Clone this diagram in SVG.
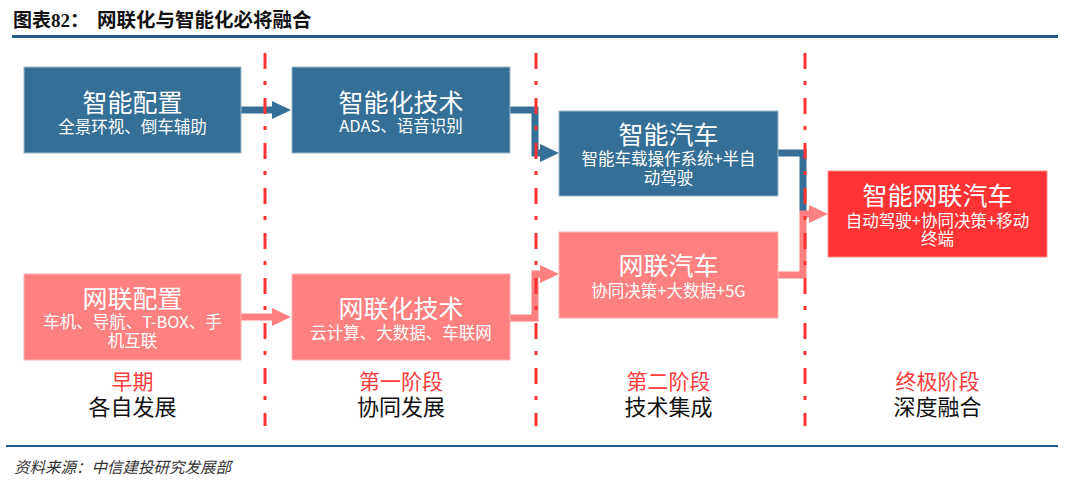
<svg xmlns="http://www.w3.org/2000/svg" width="1080" height="482" viewBox="0 0 1080 482">
  <defs>
    <style>
      .cjk { font-family: "Noto Sans CJK SC", "Noto Sans", sans-serif; }
      .blue { fill: #356F95; stroke: #9DB9CC; stroke-width: 1; }
      .pink { fill: #FF8080; stroke: #FFB3B3; stroke-width: 1; }
      .red { fill: #FF3333; stroke: #FF8C8C; stroke-width: 1; }
      .lbl { fill: #FFFFFF; text-anchor: middle; }
      .t1 { font-size: 25px; }
      .t2 { font-size: 16.5px; }
      .stagelbl { text-anchor: middle; }
      .stage { font-size: 21px; fill: #FF3B3B; }
      .desc { font-size: 22px; fill: #111111; }
      .cb { fill: none; stroke: #356F95; stroke-width: 7; stroke-linejoin: miter; }
      .cp { fill: none; stroke: #FF8080; stroke-width: 7; stroke-linejoin: miter; }
      .sep { fill: none; stroke: #FF3333; stroke-width: 3; stroke-dasharray: 16 12 4 13; }
    </style>
    <marker id="ab" markerUnits="userSpaceOnUse" markerWidth="19" markerHeight="18" refX="0" refY="9" viewBox="0 0 19 18" orient="auto">
      <path d="M0,0 L19,9 L0,18 Z" fill="#356F95"/>
    </marker>
    <marker id="ap" markerUnits="userSpaceOnUse" markerWidth="19" markerHeight="18" refX="0" refY="9" viewBox="0 0 19 18" orient="auto">
      <path d="M0,0 L19,9 L0,18 Z" fill="#FF8080"/>
    </marker>
  </defs>
  <rect width="1080" height="482" fill="#FFFFFF"/>

  <g id="title">
    <text x="13" y="27" font-size="19" font-weight="bold" fill="#111"><tspan class="cjk">图表</tspan><tspan font-family="Liberation Serif, serif">82</tspan><tspan class="cjk">：</tspan></text>
    <text x="97" y="27" class="cjk" font-size="19.5" font-weight="bold" fill="#111">网联化与智能化必将融合</text>
    <line x1="12" y1="36.5" x2="1058" y2="36.5" stroke="#1F5C8A" stroke-width="3"/>
  </g>

  <g id="connectors">
    <path class="cb" d="M241,110 H272" marker-end="url(#ab)"/>
    <path class="cb" d="M510,110 H535 V153 H540" marker-end="url(#ab)"/>
    <path class="cp" d="M241,317 H272" marker-end="url(#ap)"/>
    <path class="cp" d="M510,318 H535 V274 H540" marker-end="url(#ap)"/>
    <path class="cb" d="M778,153 H803 V211"/>
    <path class="cp" d="M778,275 H803 V214 H809" marker-end="url(#ap)"/>
  </g>

  <g id="node-zhineng-peizhi">
    <rect class="blue" x="24" y="67" width="217" height="86"/>
    <text class="cjk lbl"><tspan class="t1" x="132.5" y="112">智能配置</tspan><tspan class="t2" x="132.5" y="133">全景环视、倒车辅助</tspan></text>
  </g>
  <g id="node-zhinenghua-jishu">
    <rect class="blue" x="292" y="67" width="218" height="86"/>
    <text class="cjk lbl"><tspan class="t1" x="401" y="112">智能化技术</tspan><tspan class="t2" x="401" y="132">ADAS、语音识别</tspan></text>
  </g>
  <g id="node-zhineng-qiche">
    <rect class="blue" x="559" y="111" width="219" height="85"/>
    <text class="cjk lbl"><tspan class="t1" x="668.5" y="144">智能汽车</tspan><tspan class="t2" x="668.5" y="165">智能车载操作系统+半自</tspan><tspan class="t2" x="668.5" y="184">动驾驶</tspan></text>
  </g>
  <g id="node-zhineng-wanglian-qiche">
    <rect class="red" x="828" y="171" width="219" height="86"/>
    <text class="cjk lbl"><tspan class="t1" x="937.5" y="205">智能网联汽车</tspan><tspan class="t2" x="937.5" y="227">自动驾驶+协同决策+移动</tspan><tspan class="t2" x="937.5" y="245">终端</tspan></text>
  </g>
  <g id="node-wanglian-peizhi">
    <rect class="pink" x="24" y="274" width="217" height="86"/>
    <text class="cjk lbl"><tspan class="t1" x="132.5" y="308">网联配置</tspan><tspan class="t2" x="132.5" y="328">车机、导航、T-BOX、手</tspan><tspan class="t2" x="132.5" y="347">机互联</tspan></text>
  </g>
  <g id="node-wanglianhua-jishu">
    <rect class="pink" x="292" y="274" width="218" height="86"/>
    <text class="cjk lbl"><tspan class="t1" x="401" y="318">网联化技术</tspan><tspan class="t2" x="401" y="339">云计算、大数据、车联网</tspan></text>
  </g>
  <g id="node-wanglian-qiche">
    <rect class="pink" x="559" y="232" width="219" height="86"/>
    <text class="cjk lbl"><tspan class="t1" x="668.5" y="275">网联汽车</tspan><tspan class="t2" x="668.5" y="297">协同决策+大数据+5G</tspan></text>
  </g>

  <g id="separators">
    <line class="sep" x1="265" y1="53" x2="265" y2="426"/>
    <line class="sep" x1="536" y1="53" x2="536" y2="426"/>
    <line class="sep" x1="805" y1="53" x2="805" y2="426"/>
  </g>

  <g id="stage-labels">
    <text class="cjk stagelbl"><tspan class="stage" x="132.5" y="389">早期</tspan><tspan class="desc" x="132.5" y="415">各自发展</tspan></text>
    <text class="cjk stagelbl"><tspan class="stage" x="401" y="389">第一阶段</tspan><tspan class="desc" x="401" y="415">协同发展</tspan></text>
    <text class="cjk stagelbl"><tspan class="stage" x="668.5" y="389">第二阶段</tspan><tspan class="desc" x="668.5" y="415">技术集成</tspan></text>
    <text class="cjk stagelbl"><tspan class="stage" x="937.5" y="389">终极阶段</tspan><tspan class="desc" x="937.5" y="415">深度融合</tspan></text>
  </g>

  <g id="footer">
    <line x1="6" y1="446" x2="1058" y2="446" stroke="#1F5C8A" stroke-width="2"/>
    <text x="14" y="473" class="cjk" font-size="15.5" font-style="italic" fill="#333">资料来源：中信建投研究发展部</text>
  </g>
</svg>
